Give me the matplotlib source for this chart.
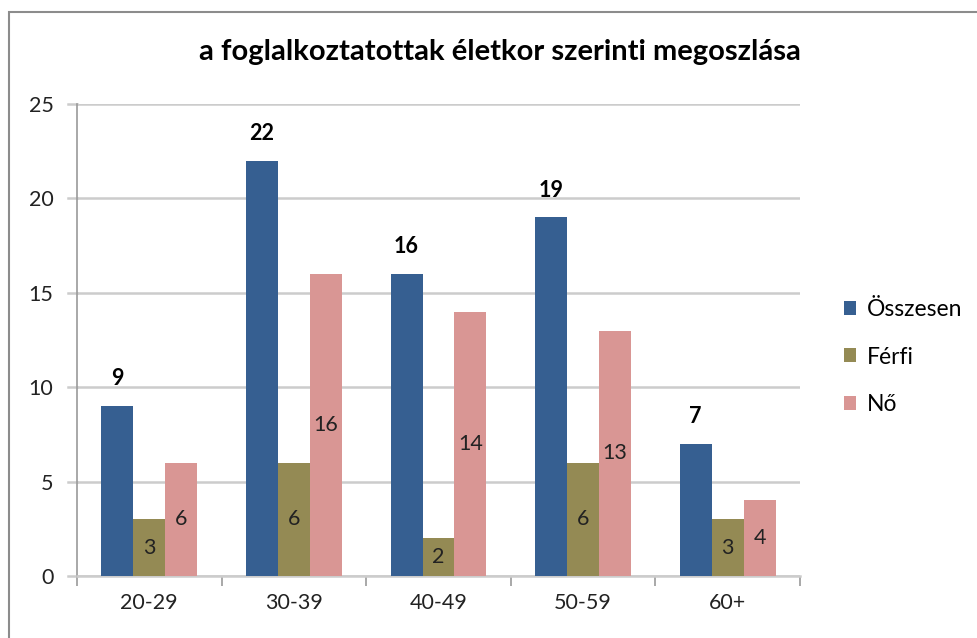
import matplotlib
matplotlib.use("Agg")
import matplotlib.pyplot as plt
from matplotlib.patches import Rectangle, Patch
import numpy as np

categories = ["20-29", "30-39", "40-49", "50-59", "60+"]
osszesen = [9, 22, 16, 19, 7]
ferfi = [3, 6, 2, 6, 3]
no = [6, 16, 14, 13, 4]
series_names = ["Összesen", "Férfi", "Nő"]
colors = ["#365F91", "#948A54", "#D99694"]
title = "a foglalkoztatottak életkor szerinti megoszlása"
yticks = [0, 5, 10, 15, 20, 25]

FONT = ["Lato", "DejaVu Sans"]
plt.rcParams['font.family'] = FONT

fig = plt.figure(figsize=(9.77, 6.38), dpi=100)
# outer border
fig.add_artist(Rectangle((9/977, -0.1), 1.2, 1 - 12/638 + 0.1, transform=fig.transFigure,
                         fill=False, edgecolor="#8c8c8c", linewidth=1.5))

ax = fig.add_axes([77/977, 1 - 576/638, (800 - 77)/977, (576 - 104)/638])
x = np.arange(len(categories))
w = 0.221
data = [osszesen, ferfi, no]
for i, (vals, c) in enumerate(zip(data, colors)):
    bars = ax.bar(x + (i - 1) * w, vals, width=w, color=c, zorder=3)
    for b, v in zip(bars, vals):
        cx = b.get_x() + b.get_width() / 2
        if i == 0:
            ax.annotate(str(v), (cx, v), xytext=(0, 19.5), textcoords="offset points",
                        ha="center", va="center", fontsize=15.5, fontweight="bold", color="black")
        else:
            ax.text(cx, v / 2, str(v), ha="center", va="center", fontsize=15.5, color="#222222", zorder=4)

ax.set_xlim(-0.5, len(categories) - 0.5)
ax.set_ylim(0, 25)
ax.set_yticks(yticks)
ax.set_yticklabels([str(t) for t in yticks], fontsize=15.5, color="#222222")
ax.set_xticks(x)
ax.set_xticklabels(categories, fontsize=15.5, color="#222222")
ax.tick_params(axis="x", length=0, pad=12)
ax.tick_params(axis="y", length=0, pad=17)
# minor ticks at category boundaries
ax.set_xticks(np.arange(-0.5, len(categories), 1), minor=True)
ax.tick_params(axis="x", which="minor", length=7, color="#9a9a9a", width=1.2)
ax.grid(axis="y", color="#cccccc", linewidth=1.8, zorder=0)
for t in yticks:
    ax.plot([-0.5 - 0.06, -0.5], [t, t], color="#cccccc", linewidth=1.8, clip_on=False, zorder=0)
for s in ["top", "right"]:
    ax.spines[s].set_visible(False)
ax.spines["left"].set_color("#9a9a9a")
ax.spines["bottom"].set_color("#cccccc")
ax.spines["bottom"].set_linewidth(1.8)
ax.spines["left"].set_linewidth(1.2)

fig.text(500/977, 1 - 52/638, title, ha="center", va="center", fontsize=21, fontweight="bold")

handles = [Patch(facecolor=c, edgecolor="none") for c in colors]
fig.legend(handles, series_names, loc="center left", bbox_to_anchor=(823/977, 1 - 357/638),
           frameon=False, fontsize=16.5, handlelength=0.55, handleheight=0.55, labelspacing=1.15,
           handletextpad=0.45)

fig.savefig("out.png", dpi=100)
